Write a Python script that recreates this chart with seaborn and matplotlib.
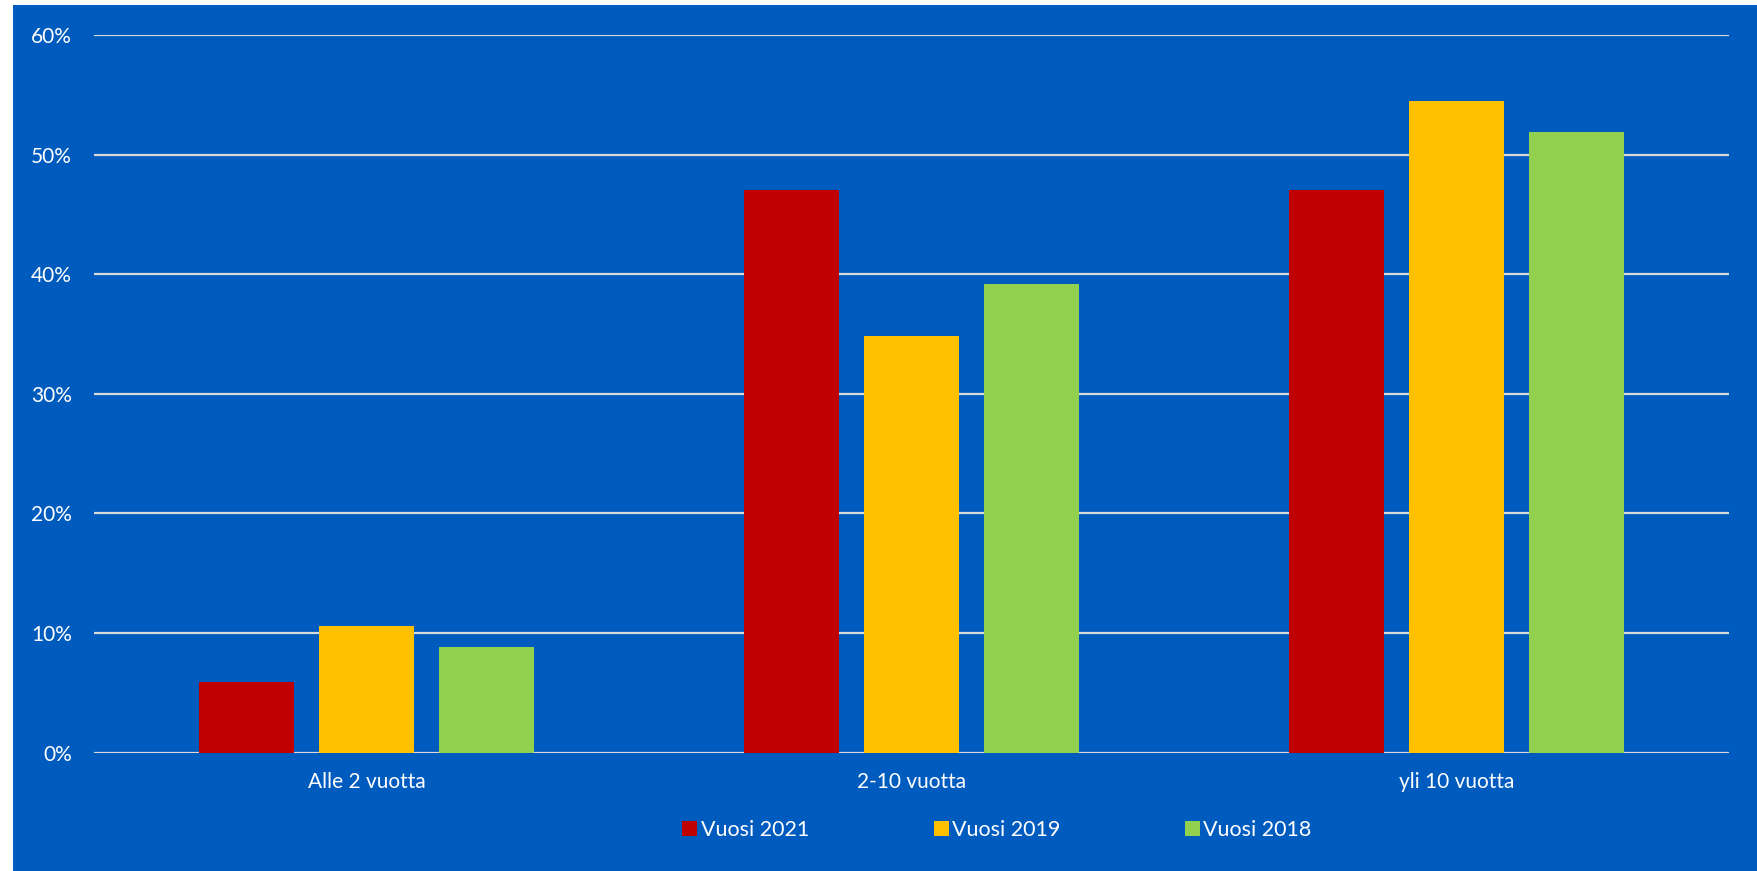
import matplotlib
matplotlib.use("Agg")
import matplotlib.pyplot as plt
import matplotlib.patches as mpatches
import pandas as pd
import seaborn as sns

# data (percent)
categories = ["Alle 2 vuotta", "2-10 vuotta", "yli 10 vuotta"]
series_names = ["Vuosi 2021", "Vuosi 2019", "Vuosi 2018"]
vals_2021 = [5.9, 47.0, 47.0]
vals_2019 = [10.6, 34.8, 54.5]
vals_2018 = [8.8, 39.2, 51.9]
y_ticks = [0, 10, 20, 30, 40, 50, 60]
y_tick_labels = ["0%", "10%", "20%", "30%", "40%", "50%", "60%"]

colors = ["#C00000", "#FFC000", "#92D050"]
BG = "#005BBF"
GRID = "#D9D9D9"

rows = []
for name, vals in zip(series_names, [vals_2021, vals_2019, vals_2018]):
    for cat, v in zip(categories, vals):
        rows.append({"kategoria": cat, "vuosi": name, "osuus": v})
df = pd.DataFrame(rows)

sns.set_style("white")
plt.rcParams["font.family"] = ["Lato", "DejaVu Sans"]

W, H = 1758, 871
fig = plt.figure(figsize=(W / 100, H / 100), dpi=100, facecolor=BG)
# thin white margin on left and top edges
fig.patches.append(mpatches.Rectangle((0, 0), 13 / W, 1, transform=fig.transFigure,
                                      facecolor="white", edgecolor="none", zorder=-10))
fig.patches.append(mpatches.Rectangle((0, 1 - 5 / H), 1, 5 / H, transform=fig.transFigure,
                                      facecolor="white", edgecolor="none", zorder=-10))

ax = fig.add_axes([94 / W, (H - 752.5) / H, (1729 - 94) / W, (752.5 - 35) / H])
ax.set_facecolor(BG)

sns.barplot(data=df, x="kategoria", y="osuus", hue="vuosi", order=categories,
            hue_order=series_names, palette=colors, saturation=1,
            width=0.66, gap=0.21, linewidth=0, ax=ax, zorder=3)

ax.set_ylim(0, 60)
ax.set_xlim(-0.5, 2.5)
ax.set_yticks(y_ticks)
ax.set_yticklabels(y_tick_labels)
ax.yaxis.grid(True, color=GRID, linewidth=1.6, zorder=0)
ax.set_axisbelow(True)
for s in ax.spines.values():
    s.set_visible(False)
ax.tick_params(axis="both", length=0, colors="white", labelsize=15)
ax.tick_params(axis="y", pad=16)
ax.tick_params(axis="x", pad=14)
ax.set_xlabel("")
ax.set_ylabel("")

ax.get_legend().remove()
handles = [mpatches.Patch(facecolor=c, edgecolor="none") for c in colors]
leg = fig.legend(handles, series_names, loc="center", ncol=3,
                 bbox_to_anchor=(997 / W, 1 - 830 / H), frameon=False,
                 fontsize=15.5, handlelength=0.7, handleheight=0.7,
                 handletextpad=0.15, columnspacing=5.8)
for t in leg.get_texts():
    t.set_color("white")

fig.savefig("out.png", dpi=100, facecolor=BG)
